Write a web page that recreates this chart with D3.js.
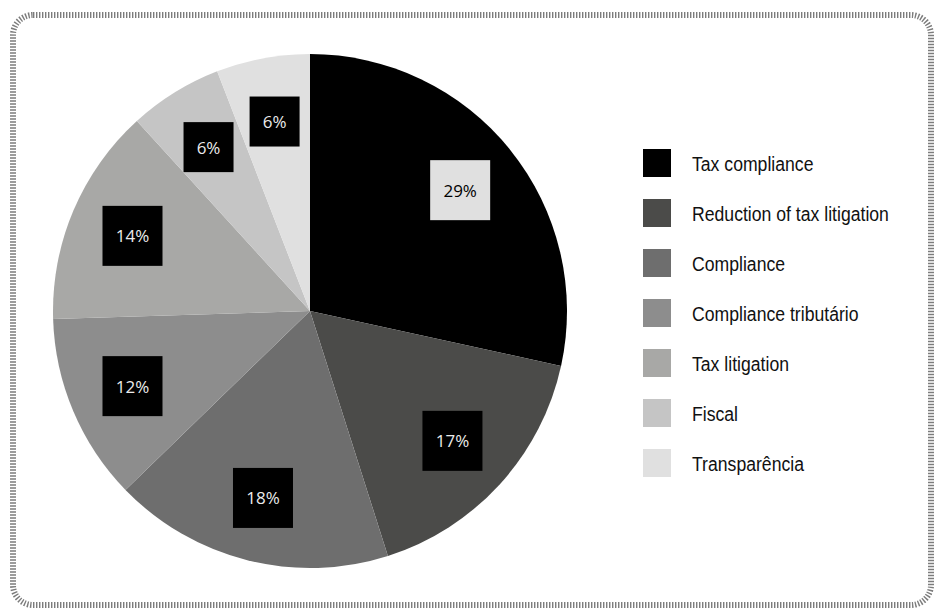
<!DOCTYPE html>
<html>
<head>
<meta charset="utf-8">
<script src="https://cdn.jsdelivr.net/npm/d3@7"></script>
<style>
  html, body { margin: 0; padding: 0; background: #ffffff; }
  svg { display: block; }
  .legend text { font-family: "Liberation Sans", Arial, sans-serif; font-size: 21px; fill: #111; }
  .slice-label text { font-family: "Open Sans", "Noto Sans", sans-serif; font-size: 17px; }
</style>
</head>
<body>
<svg id="chart" width="934" height="608"></svg>
<script>
// Share of mentions per topic (percent)
const categories = ["Tax compliance", "Reduction of tax litigation", "Compliance", "Compliance tributário", "Tax litigation", "Fiscal", "Transparência"];
const values = [29, 17, 18, 12, 14, 6, 6];
const labels = ["29%", "17%", "18%", "12%", "14%", "6%", "6%"];
const colors = ["#000000", "#4b4b49", "#6e6e6e", "#8d8d8d", "#a8a8a6", "#c5c5c5", "#e0e0e0"];

const cx = 310, cy = 311, radius = 257;

const svg = d3.select("#chart");

// dotted rounded frame
svg.append("rect")
  .attr("x", 13).attr("y", 15)
  .attr("width", 918).attr("height", 590)
  .attr("rx", 20).attr("ry", 20)
  .attr("fill", "none")
  .attr("stroke", "#7c7c7c")
  .attr("stroke-width", 6)
  .attr("stroke-dasharray", "1.4,1.6");

const pie = d3.pie().sort(null).value(d => d.value).startAngle(0).endAngle(2 * Math.PI);
const data = categories.map((c, i) => ({ name: c, value: values[i], label: labels[i], color: colors[i] }));
const arcs = pie(data);

const arc = d3.arc().innerRadius(0).outerRadius(radius);
const labelArc = d3.arc().innerRadius(radius * 0.75).outerRadius(radius * 0.75);

const g = svg.append("g").attr("transform", `translate(${cx},${cy})`);

g.selectAll("path.slice")
  .data(arcs)
  .join("path")
  .attr("class", "slice")
  .attr("d", arc)
  .attr("fill", d => d.data.color);

// boxed percentage labels
const lab = g.selectAll("g.slice-label")
  .data(arcs)
  .join("g")
  .attr("class", "slice-label")
  .attr("transform", d => `translate(${labelArc.centroid(d)})`);

const lightBox = i => i === 0;
lab.append("rect").attr("class", "box");
lab.append("text")
  .attr("text-anchor", "middle")
  .attr("dominant-baseline", "central")
  .attr("fill", (d, i) => lightBox(i) ? "#000000" : "#ebebeb")
  .text(d => d.data.label);

lab.each(function (d, i) {
  const t = d3.select(this).select("text").node();
  const w = t.getComputedTextLength();
  const side = Math.round(w + 26);
  d3.select(this).select("rect")
    .attr("x", -side / 2).attr("y", -side / 2)
    .attr("width", side).attr("height", side)
    .attr("fill", lightBox(i) ? "#e0e0e0" : "#000000");
});

// legend
const legend = svg.append("g").attr("class", "legend").attr("transform", "translate(643,149)");
const item = legend.selectAll("g")
  .data(data)
  .join("g")
  .attr("transform", (d, i) => `translate(0,${i * 50})`);
item.append("rect").attr("width", 28).attr("height", 28).attr("fill", d => d.color);
// narrow-set legend type
item.append("text")
  .attr("transform", "translate(49,14) scale(0.84,1)")
  .attr("dominant-baseline", "central")
  .text(d => d.name);
</script>
</body>
</html>
